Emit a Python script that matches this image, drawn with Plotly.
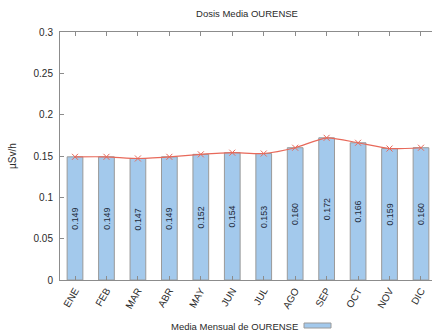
import plotly.graph_objects as go

# Monthly mean dose rate, Ourense (µSv/h)
months = ["ENE", "FEB", "MAR", "ABR", "MAY", "JUN", "JUL", "AGO", "SEP", "OCT", "NOV", "DIC"]
dose = [0.149, 0.149, 0.147, 0.149, 0.152, 0.154, 0.153, 0.160, 0.172, 0.166, 0.159, 0.160]
y_ticks = [0, 0.05, 0.1, 0.15, 0.2, 0.25, 0.3]
y_tick_text = ["0", "0.05", "0.1", "0.15", "0.2", "0.25", "0.3"]

W, H = 432, 336
ML, MR, MT, MB = 60, 0, 32, 56
FONT = "Liberation Sans, Arial, sans-serif"
TXT = "#2a2a2a"
AXIS = "#8c8c8c"
BAR_FILL = "#a3c9ec"
BAR_EDGE = "#9a9a9a"
LINE = "#e8695a"


def px_x(p):
    return (p - ML) / (W - ML - MR)


def px_y(p):
    return (H - MB - p) / (H - MT - MB)


idx = list(range(len(months)))

fig = go.Figure()
fig.add_trace(go.Bar(
    x=idx, y=dose, width=0.5,
    marker=dict(color=BAR_FILL, line=dict(color=BAR_EDGE, width=1)),
    text=[f"{v:.3f}" for v in dose], textposition="inside",
    insidetextanchor="middle", textangle=-90,
    textfont=dict(family=FONT, size=10, color="#1e2a3a"),
    name="Media Mensual de OURENSE", showlegend=False,
))
fig.add_trace(go.Scatter(
    x=idx, y=dose, mode="lines+markers",
    line=dict(color=LINE, width=1.2, shape="spline", smoothing=0.6),
    marker=dict(symbol="x-thin", size=6, line=dict(color=LINE, width=1)),
    showlegend=False,
))

# Legend: label followed by the bar swatch
fig.add_annotation(
    xref="paper", yref="paper", x=px_x(300), y=px_y(326),
    xanchor="right", yanchor="middle", showarrow=False,
    text="Media Mensual de OURENSE", font=dict(family=FONT, size=9.5, color=TXT),
)
fig.add_shape(
    type="rect", xref="paper", yref="paper",
    x0=px_x(304), x1=px_x(331), y0=px_y(328), y1=px_y(323),
    fillcolor=BAR_FILL, line=dict(color=BAR_EDGE, width=1),
)

fig.update_layout(
    width=W, height=H,
    margin=dict(l=ML, r=MR, t=MT, b=MB),
    paper_bgcolor="white", plot_bgcolor="white",
    font=dict(family=FONT, size=10, color=TXT),
    title=dict(text="Dosis Media OURENSE", x=247 / W,
               xanchor="center", y=1 - 14 / H, yanchor="middle",
               font=dict(family=FONT, size=9.5, color=TXT)),
    bargap=0.5,
    xaxis=dict(
        range=[-0.477, 11.35], tickmode="array", tickvals=idx, ticktext=months,
        tickangle=-60, ticks="inside", ticklen=4, tickcolor=AXIS,
        showline=True, linecolor=AXIS, linewidth=1, mirror="ticks",
        showgrid=False, zeroline=False, tickfont=dict(size=10),
    ),
    yaxis=dict(
        range=[0, 0.3], tickmode="array", tickvals=y_ticks, ticktext=y_tick_text,
        ticks="inside", ticklen=4, tickcolor=AXIS, ticklabelstandoff=4,
        showline=True, linecolor=AXIS, linewidth=1,
        showgrid=False, zeroline=False, tickfont=dict(size=10),
        title=dict(text="µSv/h", standoff=15, font=dict(size=10)),
    ),
)

fig.write_html("out.html")
